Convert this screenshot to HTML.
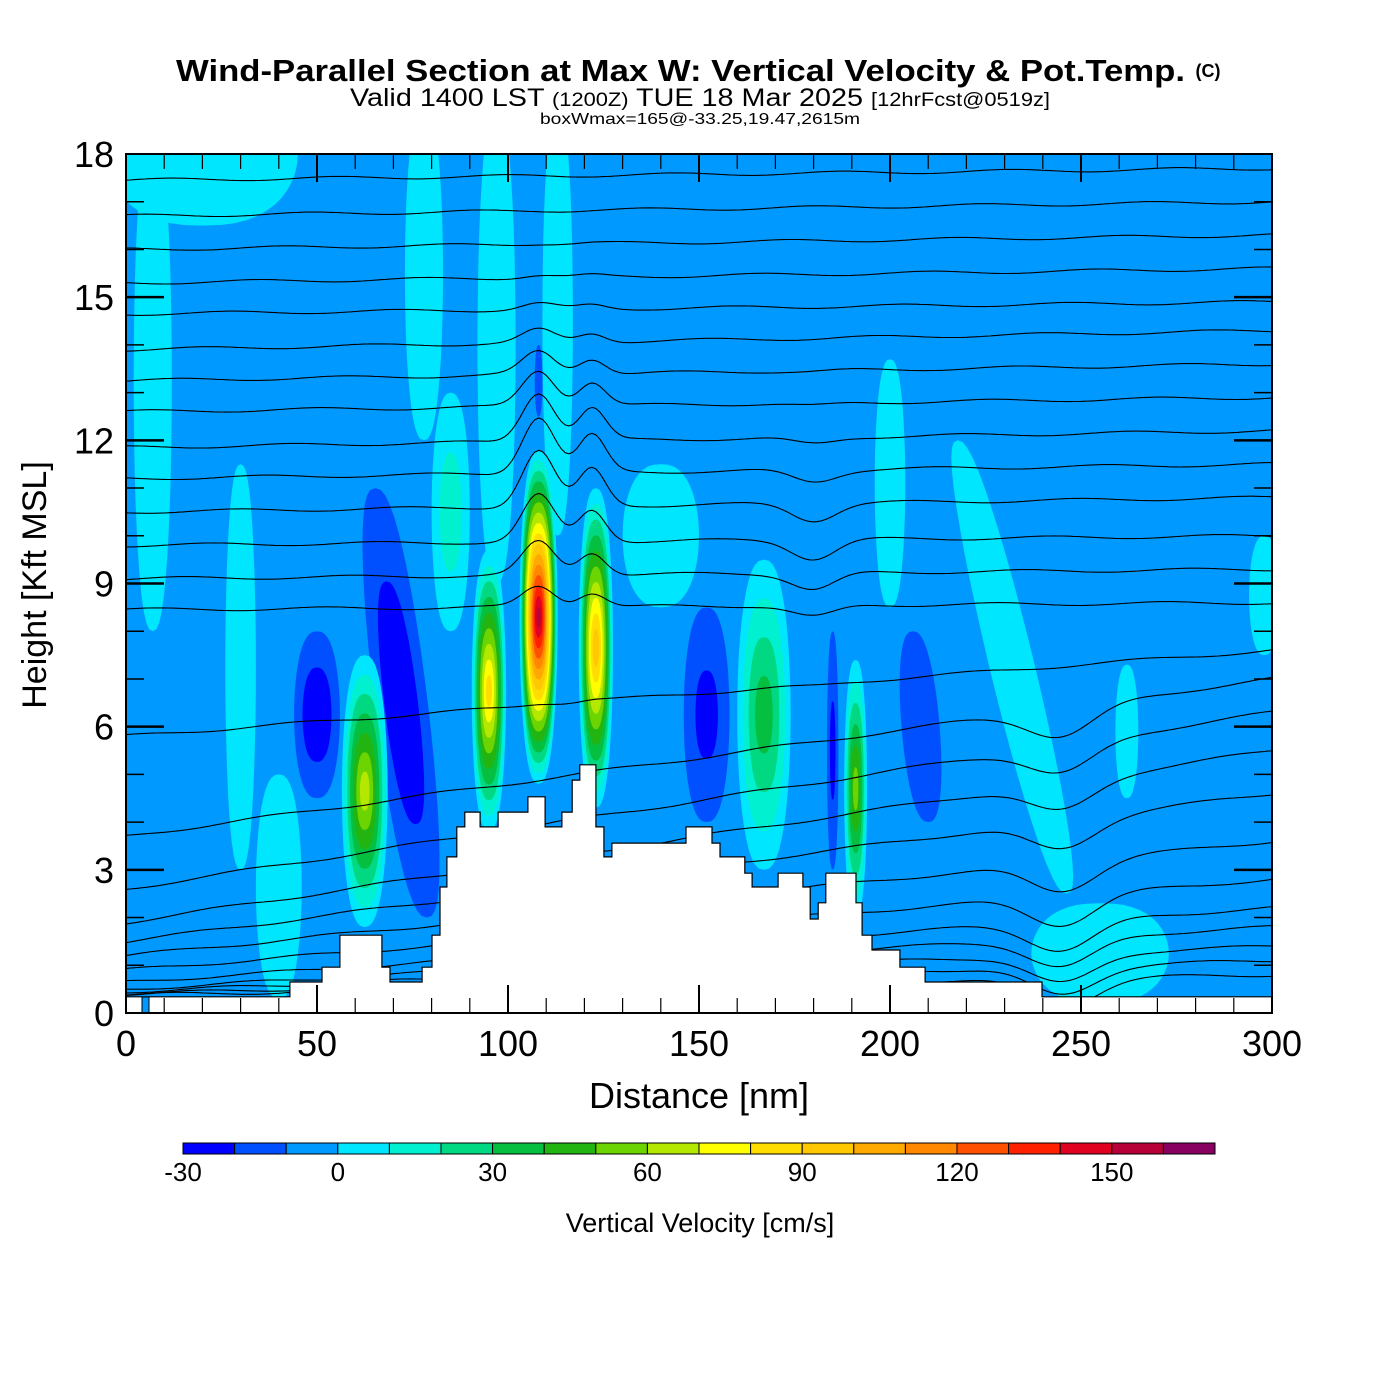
<!DOCTYPE html>
<html><head><meta charset="utf-8"><style>
html,body{margin:0;padding:0;background:#fff;}
svg{display:block;font-family:"Liberation Sans",Arial,sans-serif;}
</style></head><body>
<svg id="chart" width="1400" height="1400" viewBox="0 0 1400 1400">
  <g>
    <text x="176" y="81" font-size="31" font-weight="bold" textLength="1009" lengthAdjust="spacingAndGlyphs">Wind-Parallel Section at Max W: Vertical Velocity &amp; Pot.Temp.</text>
    <text x="1208" y="77" text-anchor="middle" font-size="18" font-weight="bold">(C)</text>
    <text x="350" y="106" font-size="25" textLength="700" lengthAdjust="spacingAndGlyphs">Valid 1400 LST <tspan font-size="19">(1200Z)</tspan> TUE 18 Mar 2025 <tspan font-size="19">[12hrFcst@0519z]</tspan></text>
    <text x="540" y="124" font-size="16" textLength="320" lengthAdjust="spacingAndGlyphs">boxWmax=165@-33.25,19.47,2615m</text>
  </g>
  <defs><clipPath id="plotclip"><rect x="126" y="154" width="1146" height="859"/></clipPath></defs>
  <g id="field" clip-path="url(#plotclip)">
    <rect x="126" y="154" width="1146" height="859" fill="#0099ff"/>
  </g>
  <g id="axes"></g>
  <text x="699" y="1108" text-anchor="middle" font-size="36">Distance [nm]</text>
  <text transform="translate(46,585) rotate(-90)" text-anchor="middle" font-size="34">Height [Kft MSL]</text>
  <g id="cbar"></g>
  <text x="700" y="1232" text-anchor="middle" font-size="27">Vertical Velocity [cm/s]</text>
</svg>
<script>
// ---- data ----
const cbLevels = [-30,-20,-10,0,10,20,30,40,50,60,70,80,90,100,110,120,130,140,150,160,170];
const cbLabels = [-30,0,30,60,90,120,150];
const cbColors = ["#0000ff","#0050ff","#0099ff","#00e6ff","#00f0d0","#00d882","#05c040","#22b512","#6cd400","#b4e800","#ffff00","#ffdd00","#ffc800","#ffaa00","#ff8800","#ff5000","#ff2000","#e00020","#b80038","#880060"];
const xTicks = [0,50,100,150,200,250,300];
const yTicks = [0,3,6,9,12,15,18];
// vertical velocity cells
const cellX    = [40,30,7,20,78,97,113,85,140,167,200,232,262,298,255,50,72,152,208,108,185,62.5,95,108,123,191];
const cellBase = [0.3,3,8,16.5,12,9,10,8,8.5,3,8.5,2.5,4.5,7.5,0.2,4.5,2,4,4,12.5,3,1.8,3.8,4.8,4.3,2];
const cellTop  = [5,11.5,18.5,19.5,19,19,19,13,11.5,9.5,13.7,12,7.3,10,2.3,8,11,8.5,8,14,8,7.5,9.7,11.8,11,7.4];
const cellHalfW= [6,4,5,25,5,5,4,5,10,7,4,6,3,4,18,6,7,6,5,1,1.5,6,4.5,5,4.5,3];
const cellPeak = [5,5,5,5,5,5,5,15,5,35,5,5,5,5,5,-28,-28,-22,-18,-12,-22,65,85,155,97,55];
const cellTilt = [0,0,0,0,0,0,0,0,0,0,0,-3,0,0,0,0,-1.5,0,-1,0,0,0,0,0,0,0];
// terrain steps (start distance nm, height kft)
const terrX = [0,42.9,51.3,56.0,67.0,69.1,77.5,80.1,82.2,84.0,86.6,88.7,92.7,97.4,105.2,109.7,114.1,116.8,118.8,123.0,125.1,127.2,146.6,153.4,155.5,162.0,163.9,170.7,177.2,179.1,181.2,183.2,191.1,192.7,195.3,202.6,209.2,239.8];
const terrH = [0.34,0.65,0.96,1.63,0.96,0.65,0.96,1.63,2.64,3.27,3.90,4.21,3.90,4.21,4.53,3.90,4.21,4.88,5.20,3.90,3.27,3.56,3.90,3.56,3.27,2.93,2.64,2.93,2.64,1.97,2.31,2.93,2.31,1.63,1.32,0.96,0.65,0.34];
// potential temperature contours: height at left and right edge (kft)
const thetaLeft  = [17.45,16.7,16.0,15.3,14.65,13.9,13.25,12.6,11.85,11.2,10.5,9.8,9.1,8.45,5.8,3.7,2.6,1.9,1.5,1.2,0.9,0.65,0.5,0.45,0.4,0.38];
const thetaRight = [17.7,17.0,16.3,15.6,14.9,14.3,13.6,12.9,12.2,11.5,10.8,10.0,9.3,8.6,7.6,7.0,6.3,5.5,4.6,3.6,2.8,2.2,1.8,1.4,1.1,0.8];

const NS="http://www.w3.org/2000/svg";
const X0=126,X1=1272,Y0=1013,Y1=154;
const sx=d=>X0+(d/300)*(X1-X0);
const sy=h=>Y0-(h/18)*(Y0-Y1);
function mk(tag,attrs,parent){const e=document.createElementNS(NS,tag);for(const k in attrs)e.setAttribute(k,attrs[k]);parent.appendChild(e);return e;}
const field=document.getElementById('field');

const order=cellX.map((_,i)=>i).sort((a,b)=>Math.abs(cellPeak[a])-Math.abs(cellPeak[b]));
order.forEach(i=>{
  const p=cellPeak[i];
  const levels=[];
  if(p>0){for(let L=0;L<p;L+=10)levels.push([L,1-L/(p+5),cbLevels.indexOf(L)]);}
  else{for(let L=-10;L>p;L-=10)levels.push([L,1-(Math.abs(L)-10)/(Math.abs(p)-5),cbLevels.indexOf(L)-1]);}
  const hc=(cellBase[i]+cellTop[i])/2,hh=(cellTop[i]-cellBase[i])/2;
  levels.forEach(([L,s,ci])=>{
    if(s<=0||ci<0)return;
    const pts=[];
    for(let k=0;k<48;k++){
      const a=k/48*2*Math.PI;
      const h=hc+hh*s*Math.sin(a);
      const c=Math.cos(a);
      const d=cellX[i]+cellTilt[i]*(h-hc)+cellHalfW[i]*Math.pow(s,0.8)*Math.sign(c)*Math.pow(Math.abs(c),0.8);
      pts.push(sx(d).toFixed(1)+','+sy(h).toFixed(1));
    }
    const el=mk('polygon',{points:pts.join(' '),fill:cbColors[ci]},field);
    
    
  });
});

thetaLeft.forEach((hl,j)=>{
  const hr=thetaRight[j];
  const pts=[];
  for(let d=0;d<=300;d+=1){
    let h=hl+(hr-hl)*d/300;
    const up=Math.exp(-Math.pow((h-11)/2.5,2));
    h+=1.2*up*Math.exp(-Math.pow((d-108)/6,2))+0.8*up*Math.exp(-Math.pow((d-122)/5,2));
    h+=-0.4*Math.exp(-Math.pow((h-10)/2,2))*Math.exp(-Math.pow((d-180)/8,2));
    if(h<7)h-=0.6*Math.exp(-Math.pow((d-245)/12,2));
    h+=0.035*Math.sin(d/7+j);
    pts.push(sx(d).toFixed(1)+','+sy(h).toFixed(1));
  }
  const el=mk('polyline',{points:pts.join(' '),fill:'none',stroke:'#000','stroke-width':1.1},field);
  
  
});

(function(){
  let pts=[sx(0)+','+sy(0)];
  for(let i=0;i<terrX.length;i++){
    const x=sx(terrX[i]),y=sy(terrH[i]);
    if(i>0)pts.push(x.toFixed(1)+','+sy(terrH[i-1]).toFixed(1));
    pts.push(x.toFixed(1)+','+y.toFixed(1));
  }
  pts.push(sx(300)+','+sy(terrH[terrH.length-1]).toFixed(1));
  pts.push(sx(300)+','+sy(0));
  const el=mk('polygon',{points:pts.join(' '),fill:'#fff',stroke:'#000','stroke-width':1.2},field);
  
  
  const m=mk('rect',{x:142,y:997,width:7,height:16,fill:'#0099ff',stroke:'#000','stroke-width':1},field);
  
  
})();

const ax=document.getElementById('axes');
const fr=mk('rect',{x:X0,y:Y1,width:X1-X0,height:Y0-Y1,fill:'none',stroke:'#000','stroke-width':2},ax);


for(let d=10;d<300;d+=10){
  const len=d%50===0?28:15;
  const t1=mk('line',{x1:sx(d),x2:sx(d),y1:Y0,y2:Y0-len,stroke:'#000','stroke-width':d%50===0?2:1.2},ax);
  
  
  const t2=mk('line',{x1:sx(d),x2:sx(d),y1:Y1,y2:Y1+len,stroke:'#000','stroke-width':d%50===0?2:1.2},ax);
  
  
}
for(let h=1;h<18;h++){
  const len=h%3===0?38:18;
  const t1=mk('line',{x1:X0,x2:X0+len,y1:sy(h),y2:sy(h),stroke:'#000','stroke-width':h%3===0?2.5:1.5},ax);
  
  
  const t2=mk('line',{x1:X1,x2:X1-len,y1:sy(h),y2:sy(h),stroke:'#000','stroke-width':h%3===0?2.5:1.5},ax);
  
  
}
xTicks.forEach(v=>{
  const t=mk('text',{x:sx(v),y:1056,'text-anchor':'middle','font-size':36},ax);
  t.textContent=v;
  
  
});
yTicks.forEach(v=>{
  const t=mk('text',{x:114,y:sy(v)+13,'text-anchor':'end','font-size':36},ax);
  t.textContent=v;
  
  
});

const cb=document.getElementById('cbar');
const CB0=183,CB1=1215;
const cx=v=>CB0+(v-cbLevels[0])/(cbLevels[cbLevels.length-1]-cbLevels[0])*(CB1-CB0);
cbColors.forEach((c,i)=>{
  const r=mk('rect',{x:cx(cbLevels[i]),y:1143,width:cx(cbLevels[i+1])-cx(cbLevels[i]),height:11,fill:c,stroke:'#000','stroke-width':1},cb);
  
  
});
cbLabels.forEach(v=>{
  const t=mk('text',{x:cx(v),y:1181,'text-anchor':'middle','font-size':26},cb);
  t.textContent=v;
  
  
});
</script>
</body></html>
